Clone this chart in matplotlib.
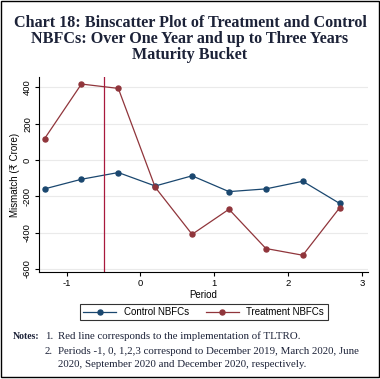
import matplotlib.pyplot as plt
from matplotlib.patches import Rectangle
from matplotlib.lines import Line2D

plt.rcParams["axes.unicode_minus"] = False

# data
period = [-1.3, -0.8, -0.3, 0.2, 0.7, 1.2, 1.7, 2.2, 2.7]
control = [-159, -106, -69, -143, -87, -174, -159, -117, -239]
treatment = [117, 418, 394, -150, -409, -271, -487, -524, -263]
tltro = -0.5

title_lines = ["Chart 18: Binscatter Plot of Treatment and Control",
               "NBFCs: Over One Year and up to Three Years",
               "Maturity Bucket"]

navy = "#1a476f"
maroon = "#90353b"
sans = ["Liberation Sans", "DejaVu Sans"]
serif = ["Liberation Serif", "DejaVu Serif"]
ink = "#1c2238"

fig = plt.figure(figsize=(3.8, 3.79), dpi=100)
ax = fig.add_axes([0.1026, 0.2815, 0.865, 0.5145])

ax.set_yticks([-600, -400, -200, 0, 200, 400])
ax.grid(axis="y", color="#eaeaea", linewidth=0.8)
ax.set_axisbelow(True)

ax.plot(period, control, color=navy, marker="o", markersize=3.6, linewidth=0.9)
ax.plot(period, treatment, color=maroon, marker="o", markersize=3.6, linewidth=0.9)
ax.axvline(tltro, color="#a8193d", linewidth=0.9)

ax.set_xlim(-1.375, 3.08)
ax.set_ylim(-618, 455)
ax.set_xticks([-1, 0, 1, 2, 3])
for s in ["top", "right"]:
    ax.spines[s].set_visible(False)
ax.tick_params(labelsize=6.8, length=3, width=0.8, pad=2)
plt.setp(ax.get_yticklabels(), rotation=90, va="center", family=sans)
plt.setp(ax.get_xticklabels(), family=sans)
ax.set_xlabel("Period", fontsize=7, family=sans, labelpad=1)
ax.set_ylabel("Mismatch (\u20b9 Crore)", fontsize=7, family=sans, labelpad=2)

handles = [Line2D([], [], color=navy, marker="o", markersize=3.6, linewidth=0.9),
           Line2D([], [], color=maroon, marker="o", markersize=3.6, linewidth=0.9)]
leg = fig.legend(handles, ["Control NBFCs", "Treatment NBFCs"], loc="center",
                 bbox_to_anchor=(0.536, 0.177), ncol=2, fancybox=False,
                 edgecolor="black", prop={"family": sans, "size": 7},
                 handlelength=3.4, handletextpad=0.8, columnspacing=1.7,
                 borderpad=0.35, borderaxespad=0)
leg.get_frame().set_linewidth(0.8)

# title, one baseline per line
for i, line in enumerate(title_lines):
    fig.text(0.5, 0.9296 - i * 0.0422, line, ha="center", va="baseline",
             fontsize=11.6, fontweight="bold", family=serif, color=ink)

fs = 7.8
fig.text(0.035, 0.1047, "Notes:", fontsize=7.0, fontweight="bold", family=serif,
         color=ink, va="baseline")
fig.text(0.118, 0.1047, "1.", fontsize=fs, family=serif, color=ink, va="baseline")
fig.text(0.153, 0.1047, "Red line corresponds to the implementation of TLTRO.",
         fontsize=fs, family=serif, color=ink, va="baseline")
fig.text(0.118, 0.0652, "2.", fontsize=fs, family=serif, color=ink, va="baseline")
fig.text(0.153, 0.0652, "Periods -1, 0, 1,2,3 correspond to December 2019, March 2020, June",
         fontsize=fs, family=serif, color=ink, va="baseline")
fig.text(0.153, 0.0325, "2020, September 2020 and December 2020, respectively.",
         fontsize=fs, family=serif, color=ink, va="baseline")

fig.patches.append(Rectangle((0.003, 0.004), 0.994, 0.993, transform=fig.transFigure,
                             fill=False, edgecolor="black", linewidth=1))

fig.savefig("out.png", dpi=100)
